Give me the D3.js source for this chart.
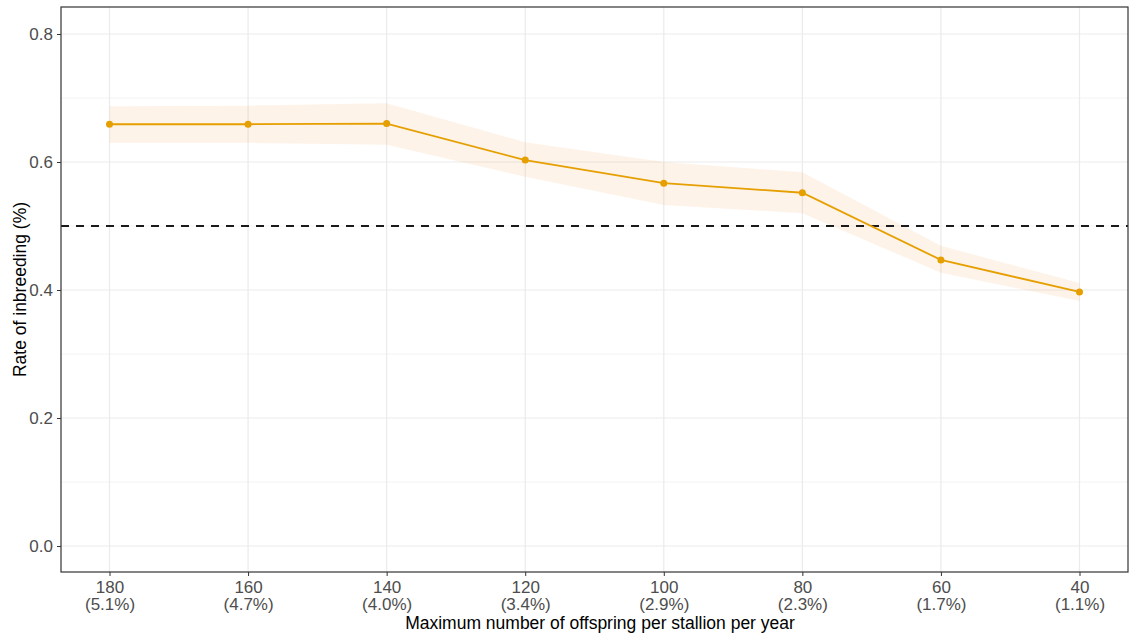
<!DOCTYPE html>
<html>
<head>
<meta charset="utf-8">
<script src="https://cdn.jsdelivr.net/npm/d3@7"></script>
<style>
  html, body { margin: 0; padding: 0; background: #fff; overflow: hidden; }
  svg { display: block; font-family: "Liberation Sans", Arial, sans-serif; }
</style>
</head>
<body>
<div id="plot"></div>
<script>
// Data
const offspring = [180, 160, 140, 120, 100, 80, 60, 40];
const shareLabels = ["(5.1%)", "(4.7%)", "(4.0%)", "(3.4%)", "(2.9%)", "(2.3%)", "(1.7%)", "(1.1%)"];
const rate = [0.659, 0.659, 0.660, 0.603, 0.567, 0.552, 0.447, 0.397];
const lower = [0.630, 0.630, 0.627, 0.577, 0.533, 0.520, 0.427, 0.383];
const upper = [0.687, 0.688, 0.692, 0.631, 0.600, 0.584, 0.469, 0.411];
const yTicks = [0.0, 0.2, 0.4, 0.6, 0.8];
const yMinor = [0.1, 0.3, 0.5, 0.7];
const threshold = 0.5;

const w = 1131;
const h = 635;
const margin = { top: 7, right: 3, bottom: 63, left: 61 };
const innerWidth = w - margin.left - margin.right;
const innerHeight = h - margin.top - margin.bottom;

const svg = d3.select("div#plot")
  .append("svg")
  .attr("width", w)
  .attr("height", h);

const g = svg.append("g")
  .attr("transform", `translate(${margin.left}, ${margin.top})`);

// Scales (continuous, reversed, with ggplot-like 5% expansion)
const xScale = d3.scaleLinear().domain([187, 33]).range([0, innerWidth]);
const yScale = d3.scaleLinear().domain([-0.0406, 0.8422]).range([innerHeight, 0]);

// Grid
g.selectAll(".minor-y")
  .data(yMinor)
  .enter().append("line")
  .attr("x1", 0).attr("x2", innerWidth)
  .attr("y1", d => yScale(d)).attr("y2", d => yScale(d))
  .attr("stroke", "#f3f3f3").attr("stroke-width", 1);

g.selectAll(".major-y")
  .data(yTicks)
  .enter().append("line")
  .attr("x1", 0).attr("x2", innerWidth)
  .attr("y1", d => yScale(d)).attr("y2", d => yScale(d))
  .attr("stroke", "#ebebeb").attr("stroke-width", 1.2);

g.selectAll(".major-x")
  .data(offspring)
  .enter().append("line")
  .attr("x1", d => xScale(d)).attr("x2", d => xScale(d))
  .attr("y1", 0).attr("y2", innerHeight)
  .attr("stroke", "#ebebeb").attr("stroke-width", 1.2);

// Confidence band
const data = offspring.map((o, i) => ({ o, rate: rate[i], lo: lower[i], hi: upper[i] }));

const area = d3.area()
  .x(d => xScale(d.o))
  .y0(d => yScale(d.lo))
  .y1(d => yScale(d.hi));

g.append("path")
  .datum(data)
  .attr("fill", "#f5a047")
  .attr("fill-opacity", 0.12)
  .attr("d", area);

// Threshold line
g.append("line")
  .attr("x1", 0).attr("x2", innerWidth)
  .attr("y1", yScale(threshold)).attr("y2", yScale(threshold))
  .attr("stroke", "#1a1a1a")
  .attr("stroke-width", 2)
  .attr("stroke-dasharray", "8,7");

// Line + points
const line = d3.line()
  .x(d => xScale(d.o))
  .y(d => yScale(d.rate));

g.append("path")
  .datum(data)
  .attr("fill", "none")
  .attr("stroke", "#e69f00")
  .attr("stroke-width", 1.8)
  .attr("d", line);

g.selectAll(".point")
  .data(data)
  .enter().append("circle")
  .attr("cx", d => xScale(d.o))
  .attr("cy", d => yScale(d.rate))
  .attr("r", 3.5)
  .attr("fill", "#e69f00");

// Panel border
g.append("rect")
  .attr("width", innerWidth)
  .attr("height", innerHeight)
  .attr("fill", "none")
  .attr("stroke", "#333")
  .attr("stroke-width", 1.2);

// Axes
const yAxis = g.append("g")
  .call(d3.axisLeft(yScale).tickValues(yTicks).tickFormat(d3.format(".1f")).tickSize(4).tickPadding(4));
yAxis.select(".domain").remove();
yAxis.selectAll(".tick line").attr("stroke", "#333");
yAxis.selectAll(".tick text").attr("fill", "#4d4d4d").style("font-size", "17px");

const xAxis = g.append("g")
  .attr("transform", `translate(0, ${innerHeight})`)
  .call(d3.axisBottom(xScale).tickValues(offspring).tickFormat(d => d).tickSize(4).tickPadding(5));
xAxis.select(".domain").remove();
xAxis.selectAll(".tick line").attr("stroke", "#333");
xAxis.selectAll(".tick text")
  .attr("fill", "#4d4d4d")
  .style("font-size", "17px")
  .each(function (d, i) {
    const t = d3.select(this);
    t.text(null);
    t.append("tspan").attr("x", 0).attr("dy", "0.71em").text(d);
    t.append("tspan").attr("x", 0).attr("dy", "1.0em").text(shareLabels[i]);
  });
xAxis.selectAll(".tick text").attr("dy", null);

// Axis titles
svg.append("text")
  .attr("x", 600)
  .attr("y", 629)
  .attr("text-anchor", "middle")
  .style("font-size", "17.5px")
  .attr("fill", "#000")
  .text("Maximum number of offspring per stallion per year");

svg.append("text")
  .attr("transform", `translate(26, ${margin.top + innerHeight / 2}) rotate(-90)`)
  .attr("text-anchor", "middle")
  .style("font-size", "17.5px")
  .attr("fill", "#000")
  .text("Rate of inbreeding (%)");
</script>
</body>
</html>
